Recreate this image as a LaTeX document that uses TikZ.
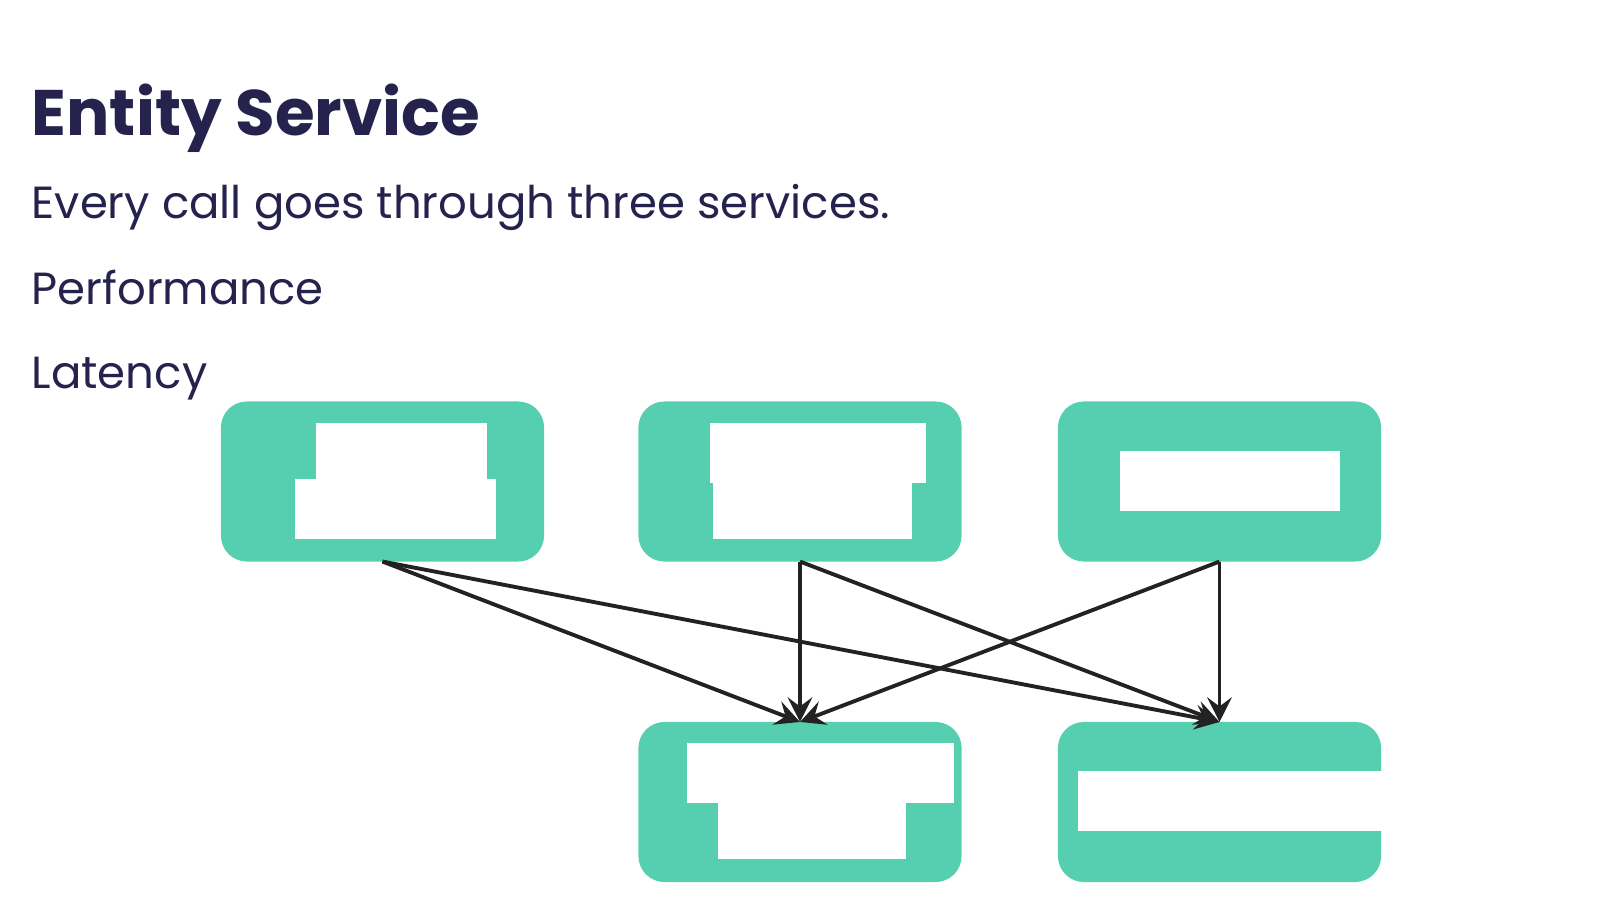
\documentclass[tikz,border=0pt]{standalone}
\usepackage{fontspec}
\setmainfont{Poppins}
\usetikzlibrary{arrows.meta}
\definecolor{tealbox}{RGB}{86,206,176}
\definecolor{ink}{RGB}{37,35,78}
\definecolor{wire}{RGB}{34,34,34}
\tikzset{
  svc/.style={rectangle, rounded corners=7.4pt, fill=tealbox, minimum width=3.23cm, minimum height=1.6cm, inner sep=0pt, outer sep=0pt},
  hole/.style={fill=white},
  call/.style={wire, line width=1.1pt, -{Stealth[length=7pt, width=7pt, inset=2.6pt]}},
  txt/.style={anchor=base west, inner sep=0pt, text=ink}
}
\begin{document}
\begin{tikzpicture}[x=0.01cm, y=-0.01cm, line join=round]
			\useasboundingbox (0,0) rectangle (1600,900);
			
			% Tiêu đề và các dòng chữ
			\node[txt, font=\fontsize{18.3pt}{21pt}\selectfont\bfseries] (title) at (31,135) {Entity Service};
			\node[txt, font=\fontsize{12.8pt}{15pt}\selectfont] (line1) at (31,218) {Every call goes through three services.};
			\node[txt, font=\fontsize{12.8pt}{15pt}\selectfont] (line2) at (31,304) {Performance};
			\node[txt, font=\fontsize{12.8pt}{15pt}\selectfont] (line3) at (31,388) {Latency};
			
			% Các dịch vụ
			\node[svc] (s1) at (382.5,481.5) {};
			\node[svc] (s2) at (800,481.5) {};
			\node[svc] (s3) at (1219.5,481.5) {};
			\node[svc] (s4) at (800,802) {};
			\node[svc] (s5) at (1219.5,802) {};
			
			% Phần trắng bên trong
			\fill[hole] (316,423) rectangle (487,479);
			\fill[hole] (295,479) rectangle (496,539);
			\fill[hole] (710,423) rectangle (926,483);
			\fill[hole] (713,483) rectangle (912,539);
			\fill[hole] (1120,451) rectangle (1340,511);
			\fill[hole] (687,743) rectangle (954,803);
			\fill[hole] (718,803) rectangle (906,859);
			\fill[hole] (1078,771) rectangle (1384,831);
			
			% Các lời gọi
			\foreach \a in {s1,s2,s3} {
				\draw[call] (\a.south) -- (s4.north);
				\draw[call] (\a.south) -- (s5.north);
			}
		\end{tikzpicture}
\end{document}
